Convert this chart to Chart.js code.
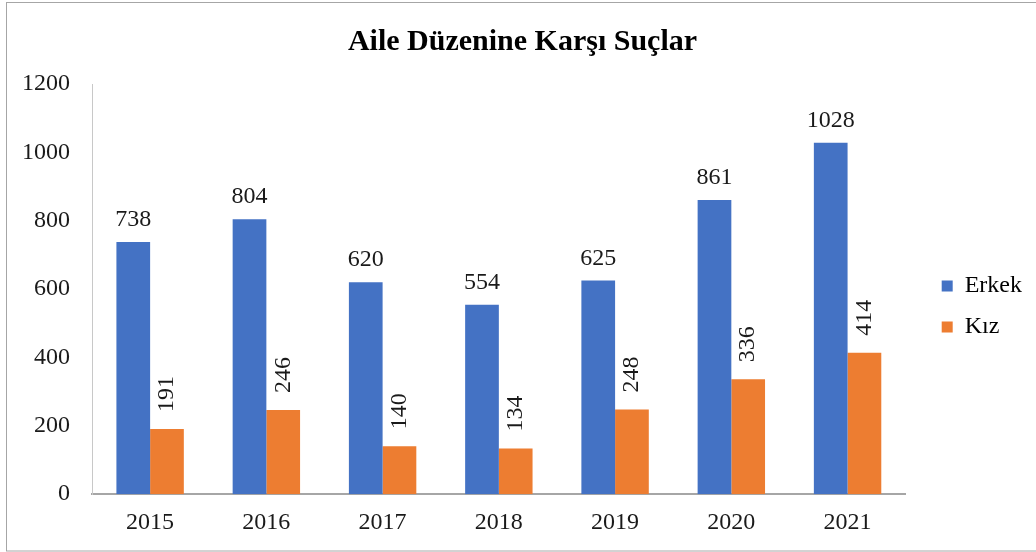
<!DOCTYPE html>
<html>
<head>
<meta charset="utf-8">
<script src="https://cdn.jsdelivr.net/npm/chart.js@4"></script>
<style>
  body { margin: 0; background: #fff; }
  #wrap { width: 1036px; height: 552px; }
</style>
</head>
<body>
<div id="wrap"><canvas id="barChart"></canvas></div>
<script>
const years = ['2015', '2016', '2017', '2018', '2019', '2020', '2021'];
const erkek = [738, 804, 620, 554, 625, 861, 1028];
const kiz = [191, 246, 140, 134, 248, 336, 414];
const yTicks = [0, 200, 400, 600, 800, 1000, 1200];

const serif = "'Liberation Serif', 'Times New Roman', serif";

// outer frame + nudge the legend / title into place
const framePlugin = {
    id: 'frame',
    afterLayout(chart) {
        chart.legend.left += 19;
        chart.legend.right += 19;
        chart.legend.top += 27;
        chart.legend.bottom += 27;
        chart.titleBlock.left += 16;
        chart.titleBlock.right += 16;
    },
    afterDraw(chart) {
        const c = chart.ctx;
        c.save();
        c.strokeStyle = '#a6a6a6';
        c.lineWidth = 1;
        c.strokeRect(6.5, 2.5, 1100, 548.5);
        c.restore();
    }
};

// value labels on top of bars
const labelPlugin = {
    id: 'barLabels',
    afterDatasetsDraw(chart) {
        const c = chart.ctx;
        c.save();
        c.fillStyle = '#1a1a1a';
        c.font = '24px ' + serif;
        chart.data.datasets.forEach((ds, i) => {
            const meta = chart.getDatasetMeta(i);
            meta.data.forEach((bar, j) => {
                const txt = String(ds.data[j]);
                if (i === 0) {
                    c.textAlign = 'center';
                    c.textBaseline = 'alphabetic';
                    c.fillText(txt, bar.x, bar.y - 16);
                } else {
                    c.save();
                    c.translate(bar.x, bar.y - 17);
                    c.rotate(-Math.PI / 2);
                    c.textAlign = 'left';
                    c.textBaseline = 'middle';
                    c.fillText(txt, 0, 0);
                    c.restore();
                }
            });
        });
        c.restore();
    }
};

const ctx = document.getElementById('barChart').getContext('2d');
new Chart(ctx, {
    type: 'bar',
    data: {
        labels: years,
        datasets: [{
            label: 'Erkek',
            data: erkek,
            backgroundColor: '#4472c4',
            borderWidth: 0,
            categoryPercentage: 0.58,
            barPercentage: 1.0
        }, {
            label: 'Kız',
            data: kiz,
            backgroundColor: '#ed7d31',
            borderWidth: 0,
            categoryPercentage: 0.58,
            barPercentage: 1.0
        }]
    },
    options: {
        responsive: true,
        maintainAspectRatio: false,
        animation: false,
        layout: {
            padding: { left: 0, right: 23, top: 8, bottom: 1 }
        },
        plugins: {
            title: {
                display: true,
                text: 'Aile Düzenine Karşı Suçlar',
                color: '#000',
                font: { family: serif, size: 30, weight: 'bold' },
                padding: { top: 16, bottom: 24 }
            },
            legend: {
                position: 'right',
                labels: {
                    color: '#000',
                    font: { family: serif, size: 24 },
                    boxWidth: 11,
                    boxHeight: 11,
                    padding: 17
                }
            },
            tooltip: { enabled: false }
        },
        scales: {
            x: {
                grid: { display: false, drawTicks: false },
                border: { display: true, color: '#a6a6a6', width: 2 },
                ticks: {
                    color: '#1a1a1a',
                    font: { family: serif, size: 24 },
                    padding: 14
                }
            },
            y: {
                min: 0,
                max: 1200,
                afterBuildTicks(scale) {
                    scale.ticks = yTicks.map(v => ({ value: v }));
                },
                grid: { display: false, drawTicks: false },
                border: { display: true, color: '#c8c8c8', width: 1 },
                ticks: {
                    color: '#1a1a1a',
                    font: { family: serif, size: 24 },
                    padding: 22,
                    callback: v => String(v)
                }
            }
        }
    },
    plugins: [framePlugin, labelPlugin]
});
</script>
</body>
</html>
